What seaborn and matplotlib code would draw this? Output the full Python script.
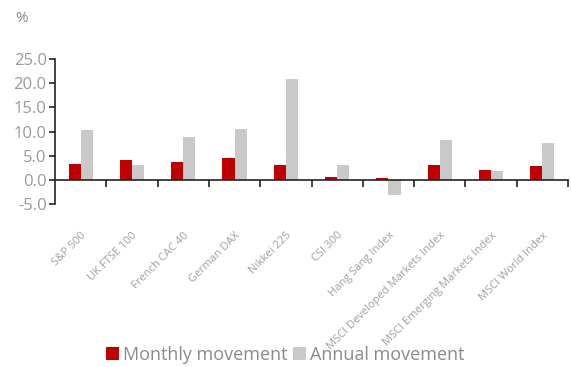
import matplotlib
matplotlib.use("Agg")
import matplotlib.pyplot as plt
import seaborn as sns
import pandas as pd
import numpy as np

categories = ["S&P 500", "UK FTSE 100", "French CAC 40", "German DAX", "Nikkei 225",
              "CSI 300", "Hang Sang Index", "MSCI Developed Markets Index",
              "MSCI Emerging Markets Index", "MSCI World Index"]
monthly = [3.2, 4.2, 3.6, 4.6, 3.1, 0.6, 0.4, 3.0, 2.0, 2.8]
annual = [10.3, 3.0, 8.9, 10.6, 20.8, 3.0, -3.1, 8.3, 1.8, 7.7]
series_names = ["Monthly movement", "Annual movement"]
yticks = [-5.0, 0.0, 5.0, 10.0, 15.0, 20.0, 25.0]

df = pd.DataFrame({
    "Index": categories * 2,
    "Series": [series_names[0]] * len(categories) + [series_names[1]] * len(categories),
    "Value": monthly + annual,
})

sns.set_style("white")
plt.rcParams["font.family"] = ["Open Sans", "DejaVu Sans"]

fig = plt.figure(figsize=(5.71, 3.67), dpi=100)
ax = fig.add_axes([55 / 571, 1 - 204 / 367, (568 - 55) / 571, (204 - 59) / 367])

sns.barplot(data=df, x="Index", y="Value", hue="Series", order=categories,
            hue_order=series_names, palette=["#C00000", "#C9C9C9"],
            width=0.47, saturation=1, ax=ax, legend=True, linewidth=0)

ax.set_xlim(-0.5, len(categories) - 0.5)
ax.set_ylim(-5, 25)
ax.set_yticks(yticks)
ax.set_yticklabels([f"{v:.1f}" for v in yticks], color="#9A9A9A", fontsize=12)
ax.set_xlabel("")
ax.set_ylabel("")

for s in ["top", "right"]:
    ax.spines[s].set_visible(False)
ax.spines["left"].set_color("#222222")
ax.spines["left"].set_linewidth(1.2)
ax.spines["bottom"].set_position(("data", 0))
ax.spines["bottom"].set_color("#222222")
ax.spines["bottom"].set_linewidth(1.2)

ax.tick_params(axis="y", left=True, direction="out", length=4, width=1.2, color="#222222", pad=2)
ax.set_xticks(np.arange(len(categories)))
ax.set_xticks(np.arange(len(categories)) + 0.5, minor=True)
ax.tick_params(axis="x", which="major", bottom=True, length=0, pad=36)
ax.tick_params(axis="x", which="minor", bottom=True, length=5, width=1.2, color="#222222", direction="out")
ax.set_xticklabels(categories, rotation=45, ha="right", rotation_mode="anchor",
                   fontsize=8, color="#A0A0A0")

leg = ax.get_legend()
handles = leg.legend_handles
leg.remove()
fig.legend(handles, series_names, loc="center", bbox_to_anchor=(0.5, 1 - 355 / 367),
           ncol=2, frameon=False, fontsize=13, handlelength=0.7, handleheight=0.7,
           handletextpad=0.25, columnspacing=0.3, labelcolor="#8A8A8A")

fig.text(22 / 571, 1 - 18 / 367, "%", ha="center", va="center", fontsize=11, color="#8A8A8A")

fig.savefig("out.png", dpi=100, facecolor="white")
